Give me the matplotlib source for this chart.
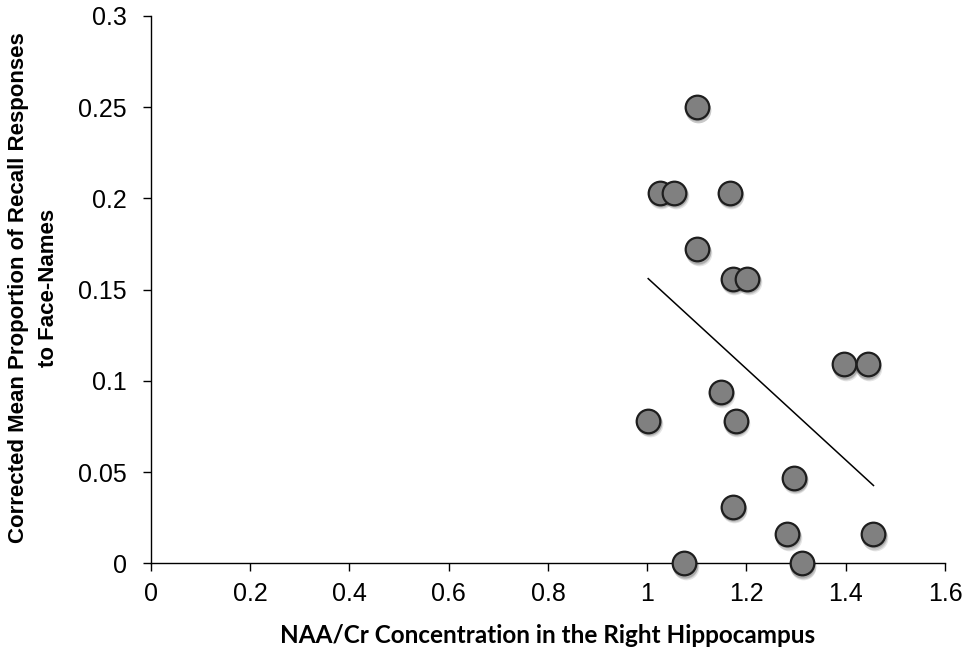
import numpy as np
import matplotlib
matplotlib.use("Agg")
import matplotlib.pyplot as plt
import matplotlib.transforms as mtransforms

# NAA/Cr ratio vs corrected recall proportion
naa_cr = [1.100, 1.026, 1.055, 1.167, 1.101, 1.173, 1.202, 1.397, 1.444,
          1.148, 1.002, 1.178, 1.296, 1.173, 1.282, 1.456, 1.075, 1.312]
recall = [0.250, 0.203, 0.203, 0.203, 0.172, 0.156, 0.156, 0.109, 0.109,
          0.094, 0.078, 0.078, 0.047, 0.031, 0.016, 0.016, 0.000, 0.000]

x_ticks = [0, 0.2, 0.4, 0.6, 0.8, 1, 1.2, 1.4, 1.6]
x_labels = ["0", "0.2", "0.4", "0.6", "0.8", "1", "1.2", "1.4", "1.6"]
y_ticks = [0, 0.05, 0.1, 0.15, 0.2, 0.25, 0.3]
y_labels = ["0", "0.05", "0.1", "0.15", "0.2", "0.25", "0.3"]

plt.rcParams['font.family'] = ['Liberation Sans', 'DejaVu Sans']

fig = plt.figure(figsize=(9.67, 6.56), dpi=100)
ax = fig.add_axes([0.1561, 0.1413, 0.8211, 0.8347])

xs = np.array(naa_cr)
ys = np.array(recall)

# linear trend line over the data range
slope, icpt = np.polyfit(xs, ys, 1)
tx = np.array([xs.min(), xs.max()])
ax.plot(tx, slope * tx + icpt, color="black", lw=1.1, zorder=2)

# soft drop shadow under the markers
for dx, dy, a in [(1.0, -2.5, 0.10), (0.6, -1.8, 0.12), (0.3, -1.0, 0.15)]:
    off = mtransforms.offset_copy(ax.transData, fig=fig, x=dx, y=dy, units="points")
    ax.plot(xs, ys, "o", ms=18.5, color="black", alpha=a, mec="none",
            transform=off, zorder=3, clip_on=False)

ax.plot(xs, ys, "o", ms=17, mfc="#808080", mec="#1e1e1e", mew=1.6,
        zorder=4, clip_on=False, linestyle="none")

ax.set_xlim(0, 1.6)
ax.set_ylim(0, 0.3)
ax.set_xticks(x_ticks)
ax.set_xticklabels(x_labels)
ax.set_yticks(y_ticks)
ax.set_yticklabels(y_labels)
ax.tick_params(direction="out", length=5.8, width=1.0, labelsize=18)
ax.tick_params(axis="x", pad=8)
ax.tick_params(axis="y", pad=11.5)

for s in ["top", "right"]:
    ax.spines[s].set_visible(False)
for s in ["left", "bottom"]:
    ax.spines[s].set_linewidth(1.0)

xl = ax.set_xlabel("NAA/Cr Concentration in the Right Hippocampus",
                   fontfamily="Lato", fontweight="bold", fontsize=17.5)
xl.set_va("baseline")
ax.xaxis.set_label_coords(0.5, -0.145)

yl = ax.set_ylabel("Corrected Mean Proportion of Recall Responses\nto Face-Names",
                   fontweight="bold", fontsize=16.0, linespacing=1.6)
yl.set_va("center")
ax.yaxis.set_label_coords(-0.148, 0.503)

fig.savefig("out.png", dpi=100)
